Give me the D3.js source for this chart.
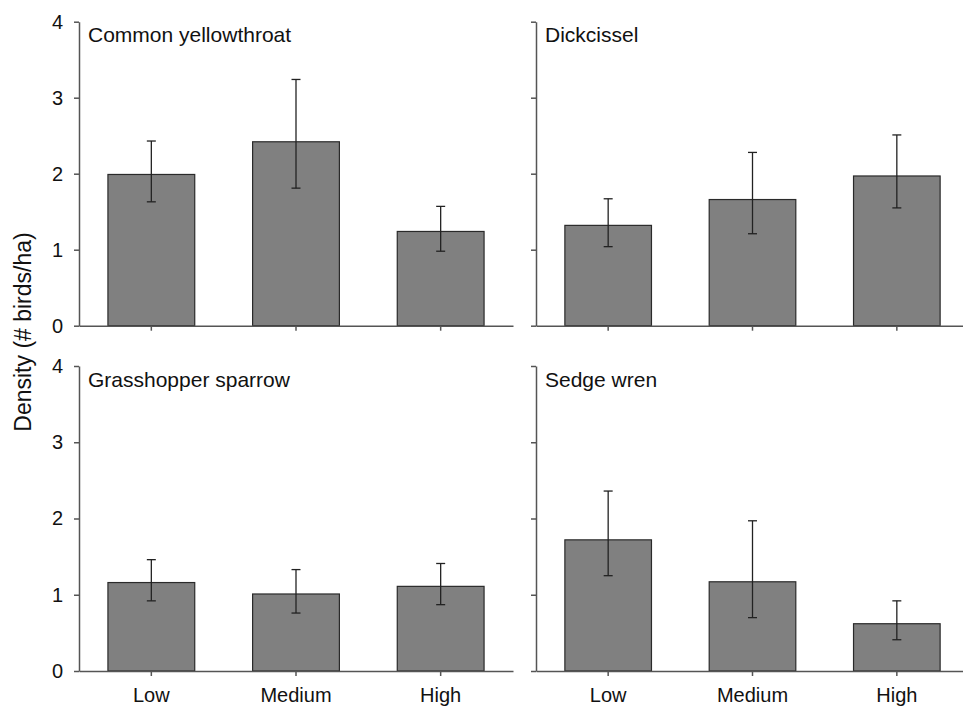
<!DOCTYPE html>
<html>
<head>
<meta charset="utf-8">
<script src="https://cdn.jsdelivr.net/npm/d3@7"></script>
<style>
  body { margin: 0; background: #fff; }
  svg { display: block; font-family: Arial, "Liberation Sans", sans-serif; }
</style>
</head>
<body>
<svg id="chart" width="963" height="706"></svg>
<script>
const categories = ['Low', 'Medium', 'High']
const species = ['Common yellowthroat', 'Dickcissel', 'Grasshopper sparrow', 'Sedge wren']
const yTicks = [0, 1, 2, 3, 4]

// mean density, lower and upper error bar ends, per species
const means = [
  [1.99, 2.42, 1.24],
  [1.32, 1.66, 1.97],
  [1.16, 1.01, 1.11],
  [1.72, 1.17, 0.62]
]
const lower = [
  [1.63, 1.81, 0.98],
  [1.04, 1.21, 1.55],
  [0.92, 0.76, 0.87],
  [1.25, 0.70, 0.41]
]
const upper = [
  [2.43, 3.24, 1.57],
  [1.67, 2.28, 2.51],
  [1.46, 1.33, 1.41],
  [2.36, 1.97, 0.92]
]

const svg = d3.select('#chart')

// panel frames: x range, y range
const cols = [[79, 513], [536, 969]]
const rows = [[325.7, 21.7], [671, 366]]

species.forEach((name, i) => {
  let col = cols[i % 2], row = rows[Math.floor(i / 2)]
  let showLabels = i % 2 === 0
  let showX = i >= 2

  let x = d3.scaleBand().domain(categories).range(col).paddingInner(0.4).paddingOuter(0.2)
  let y = d3.scaleLinear().domain([0, 4]).range(row)

  let data = categories.map((c, j) => ({
    key: c, value: means[i][j], lo: lower[i][j], hi: upper[i][j]
  }))

  let g = svg.append('g').attr('class', 'panel')

  // bars
  g.selectAll('rect.bar').data(data).enter().append('rect')
    .attr('class', 'bar')
    .attr('x', d => x(d.key))
    .attr('width', x.bandwidth())
    .attr('y', d => y(d.value))
    .attr('height', d => y(0) - y(d.value))
    .style('fill', '#808080')
    .style('stroke', '#2a2a2a')
    .style('stroke-width', 1.2)

  // error bars
  let eb = g.selectAll('g.err').data(data).enter().append('g')
    .attr('class', 'err')
    .attr('transform', d => `translate(${ x(d.key) + x.bandwidth() / 2 },0)`)
  eb.append('line')
    .attr('y1', d => y(d.lo)).attr('y2', d => y(d.hi))
  eb.append('line')
    .attr('x1', -4.5).attr('x2', 4.5).attr('y1', d => y(d.hi)).attr('y2', d => y(d.hi))
  eb.append('line')
    .attr('x1', -4.5).attr('x2', 4.5).attr('y1', d => y(d.lo)).attr('y2', d => y(d.lo))
  eb.selectAll('line').style('stroke', '#222').style('stroke-width', 1.3)

  // axes
  let xAxis = g.append('g')
    .attr('transform', `translate(0,${ y(0) })`)
    .call(d3.axisBottom(x).tickSize(5).tickSizeOuter(0).tickPadding(12))
  if (!showX) xAxis.selectAll('text').remove()

  let yAxis = g.append('g')
    .attr('transform', `translate(${ col[0] },0)`)
    .call(d3.axisLeft(y).tickValues(yTicks).tickFormat(d3.format('d')).tickSize(5).tickSizeOuter(0).tickPadding(11))
  if (!showLabels) yAxis.selectAll('text').remove()

  g.selectAll('.domain, .tick line').style('stroke', '#555').style('stroke-width', 1.5)
  g.selectAll('.tick text').style('font-size', '20px').style('fill', '#111').style('font-family', 'Arial, "Liberation Sans", sans-serif')

  // title
  g.append('text')
    .attr('x', col[0] + 9)
    .attr('y', row[1] + 20.5)
    .style('font-size', '21px')
    .style('fill', '#111')
    .text(name)
})

svg.append('text')
  .attr('transform', 'translate(31,332) rotate(-90)')
  .attr('text-anchor', 'middle')
  .style('font-size', '23px')
  .style('fill', '#111')
  .text('Density (# birds/ha)')
</script>
</body>
</html>
